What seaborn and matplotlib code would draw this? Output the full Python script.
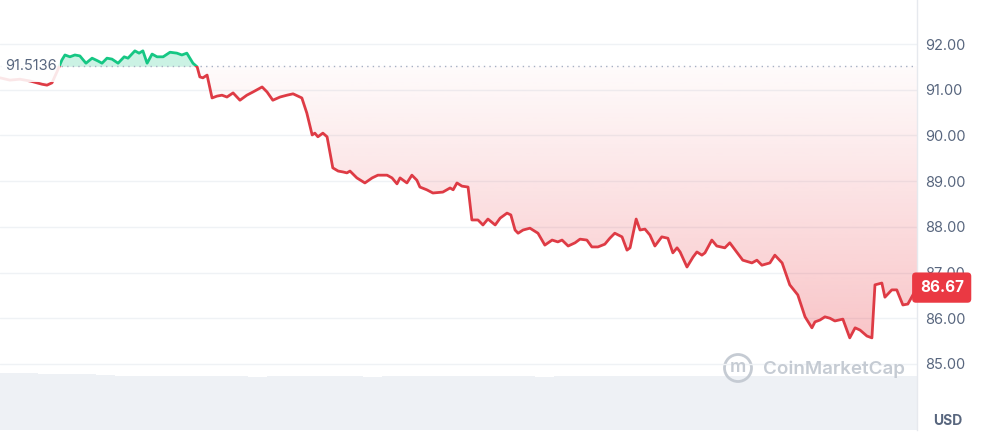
import numpy as np
import matplotlib
matplotlib.use("Agg")
import matplotlib.pyplot as plt
from matplotlib.patches import Rectangle, Ellipse
import seaborn as sns

# price over the last 24 h (hours, USD)
hours = [0.00, 0.26, 0.52, 0.79, 1.10, 1.23, 1.36, 1.49, 1.62, 1.70, 1.83, 1.96, 2.09, 2.25, 2.41, 2.56,
         2.67, 2.80, 2.93, 3.09, 3.25, 3.35, 3.53, 3.64, 3.74, 3.85, 3.98, 4.11, 4.27, 4.45, 4.63, 4.76,
         4.89, 5.05, 5.16, 5.23, 5.31, 5.42, 5.55, 5.68, 5.81, 5.94, 6.10, 6.28, 6.46, 6.62, 6.86, 6.99,
         7.14, 7.33, 7.51, 7.67, 7.90, 8.03, 8.17, 8.24, 8.32, 8.45, 8.56, 8.71, 8.85, 8.98, 9.08, 9.16,
         9.34, 9.55, 9.74, 9.89, 10.13, 10.26, 10.39, 10.47, 10.65, 10.78, 10.91, 10.99, 11.17, 11.33,
         11.59, 11.78, 11.86, 11.96, 12.09, 12.25, 12.35, 12.51, 12.64, 12.77, 12.96, 13.09, 13.27, 13.37,
         13.48, 13.56, 13.69, 13.87, 14.08, 14.26, 14.45, 14.60, 14.71, 14.87, 15.05, 15.18, 15.36, 15.49,
         15.65, 15.83, 15.96, 16.09, 16.28, 16.41, 16.49, 16.65, 16.75, 16.88, 17.01, 17.14, 17.32, 17.48,
         17.61, 17.72, 17.80, 17.98, 18.14, 18.24, 18.37, 18.45, 18.63, 18.76, 18.97, 19.10, 19.44, 19.68,
         19.81, 19.94, 20.15, 20.28, 20.47, 20.67, 20.88, 21.07, 21.25, 21.33, 21.46, 21.59, 21.72, 21.85,
         22.06, 22.24, 22.38, 22.51, 22.69, 22.82, 22.90, 23.08, 23.16, 23.34, 23.47, 23.63, 23.76, 24.00]
price = [91.26, 91.21, 91.23, 91.19, 91.12, 91.10, 91.15, 91.39, 91.65, 91.76, 91.72, 91.76, 91.74, 91.58, 91.69, 91.63,
         91.58, 91.69, 91.67, 91.58, 91.72, 91.69, 91.85, 91.80, 91.85, 91.58, 91.78, 91.72, 91.72, 91.82, 91.80, 91.76,
         91.80, 91.58, 91.50, 91.28, 91.26, 91.32, 90.82, 90.86, 90.88, 90.84, 90.93, 90.77, 90.88, 90.95, 91.06, 90.95,
         90.77, 90.84, 90.88, 90.91, 90.82, 90.49, 90.01, 90.05, 89.97, 90.05, 89.97, 89.29, 89.22, 89.20, 89.18, 89.22,
         89.07, 88.96, 89.07, 89.13, 89.13, 89.07, 88.94, 89.07, 88.96, 89.13, 89.02, 88.87, 88.81, 88.74,
         88.76, 88.85, 88.81, 88.96, 88.89, 88.87, 88.15, 88.15, 88.04, 88.17, 88.04, 88.19, 88.30, 88.26,
         87.93, 87.86, 87.93, 87.97, 87.86, 87.60, 87.71, 87.67, 87.71, 87.58, 87.65, 87.73, 87.71, 87.56,
         87.56, 87.62, 87.75, 87.86, 87.78, 87.49, 87.54, 88.17, 87.93, 87.95, 87.82, 87.58, 87.78, 87.75,
         87.43, 87.54, 87.45, 87.12, 87.34, 87.45, 87.38, 87.43, 87.71, 87.58, 87.54, 87.65, 87.27, 87.21,
         87.27, 87.16, 87.21, 87.38, 87.21, 86.73, 86.51, 86.03, 85.79, 85.92, 85.96, 86.03, 86.00, 85.94,
         85.98, 85.57, 85.79, 85.74, 85.61, 85.57, 86.73, 86.77, 86.46, 86.62, 86.62, 86.29, 86.31, 86.67]

# relative volume per half hour
volume = [1.00, 1.00, 0.99, 0.99, 0.98, 0.97, 0.95, 0.94, 0.94, 0.94, 0.95, 0.94, 0.94, 0.93, 0.94, 0.95,
          0.95, 0.95, 0.94, 0.93, 0.94, 0.95, 0.95, 0.94, 0.95, 0.95, 0.94, 0.94, 0.93, 0.94, 0.95, 0.95,
          0.94, 0.95, 0.95, 0.94, 0.94, 0.95, 0.95, 0.94, 0.94, 0.95, 0.95, 0.95, 0.95, 0.95, 0.95, 0.95]

base_price = 91.5136
last_price = 86.67
tick_prices = [85, 86, 87, 88, 89, 90, 91, 92]

GREEN = "#16c784"
RED = "#ea3943"
RED_LINE = "#de3b45"
GREY_TXT = "#58667e"
MARK = "#c5cbd3"

sns.set_style("white")
plt.rcParams['font.family'] = ['Inter', 'DejaVu Sans']

fig = plt.figure(figsize=(9.83, 4.36), dpi=100)
ax_w = 917 / 983
ax = fig.add_axes([0, 6 / 436, ax_w, 430 / 436])
axv = fig.add_axes([0, 6 / 436, ax_w, 57 / 436], zorder=0)
ax.set_zorder(1)
ax.patch.set_alpha(0)

# volume strip
sns.barplot(x=list(range(len(volume))), y=volume, ax=axv, color="#eef1f5",
            width=1.0, saturation=1, linewidth=0)
axv.set_ylim(0, 1.0)
axv.set_xlim(-0.5, len(volume) - 0.5)
axv.axis("off")

# price line, green above the open price, red below
sns.lineplot(x=hours, y=price, ax=ax, color=GREEN, lw=2, zorder=4)
sns.lineplot(x=hours, y=price, ax=ax, color=RED_LINE, lw=2, zorder=4)
up_line, down_line = ax.lines[-2], ax.lines[-1]
up_line.set_clip_path(Rectangle((-5, base_price), 40, 20, transform=ax.transData))
down_line.set_clip_path(Rectangle((-5, base_price - 20), 40, 20, transform=ax.transData))

pr = np.array(price)
ax.fill_between(hours, pr, base_price, where=pr >= base_price, interpolate=True,
                color=GREEN, alpha=0.22, lw=0, zorder=2)

# red gradient under the open price
poly = ax.fill_between(hours, pr, base_price, facecolor="none", lw=0)
grad = np.zeros((256, 1, 4))
grad[..., :3] = matplotlib.colors.to_rgb(RED)
grad[:, 0, 3] = np.linspace(0.30, 0.02, 256)
im = ax.imshow(grad, extent=[0, 24, 85.4, base_price], origin="lower",
               aspect="auto", interpolation="bilinear", zorder=2)
im.set_clip_path(poly.get_paths()[0], transform=ax.transData)

ax.axhline(base_price, color="#a6b0c3", lw=1, ls=(0, (1, 3)), zorder=3)

ax.set_xlim(0, 24)
ax.set_ylim(83.554, 92.963)
ax.set_yticks(tick_prices)
ax.set_yticklabels([f"{p:.2f}" for p in tick_prices])
ax.yaxis.tick_right()
ax.tick_params(axis="y", length=0, pad=6, labelsize=10.5, labelcolor=GREY_TXT)
ax.set_xticks([])
ax.set_xlabel("")
ax.set_ylabel("")
ax.grid(axis="y", color="#eff2f5", lw=1)
for s in ["top", "left", "bottom"]:
    ax.spines[s].set_visible(False)
ax.spines["right"].set_color("#e6e9ee")
ax.spines["right"].set_linewidth(1)

# open-price label on a translucent white plate
ax.add_patch(Rectangle((0, 0.8093), 60 / 917, 0.0605, transform=ax.transAxes,
                       fc="white", ec="none", alpha=0.88, zorder=5))
ax.text(0.006, base_price, "91.5136", transform=ax.get_yaxis_transform(),
        ha="left", va="center", fontsize=10.5, color=GREY_TXT, zorder=6)
ax.text(1.003, last_price, f"{last_price:.2f}", transform=ax.get_yaxis_transform(),
        ha="left", va="center", fontsize=11, fontweight="bold", color="white",
        zorder=7, clip_on=False,
        bbox=dict(boxstyle="round,pad=0.5,rounding_size=0.25", fc=RED, ec="none"))
fig.text(948 / 983, 1 - 421 / 436, "USD", ha="center", va="center",
         fontsize=10, fontweight="bold", color=GREY_TXT)

# watermark
fig.text(763 / 983, 1 - 369 / 436, "CoinMarketCap", ha="left", va="center",
         fontsize=13.5, color=MARK, fontweight="semibold")
fig.add_artist(Ellipse((738 / 983, 1 - 368 / 436), 27 / 983, 27 / 436,
                       transform=fig.transFigure, fill=False, ec=MARK, lw=2))
fig.text(738 / 983, 1 - 367 / 436, "m", ha="center", va="center",
         fontsize=13, color=MARK, fontweight="semibold")

fig.savefig("out.png", dpi=100, facecolor="white")
